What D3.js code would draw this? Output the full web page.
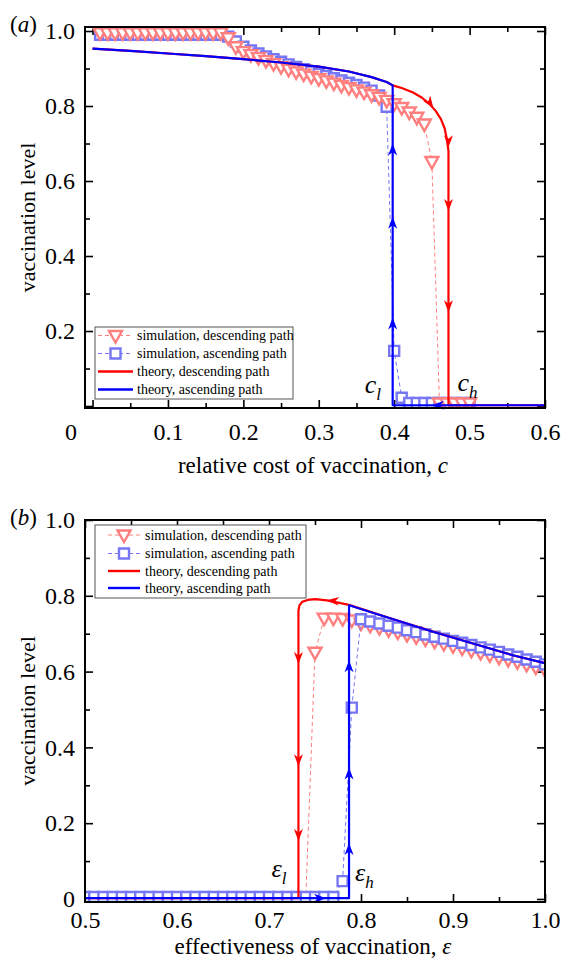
<!DOCTYPE html>
<html>
<head>
<meta charset="utf-8">
<script src="https://cdnjs.cloudflare.com/ajax/libs/d3/7.8.5/d3.min.js"></script>
<style>
  body { margin: 0; background: #fff; }
  svg { display: block; font-family: "Liberation Serif", "Times New Roman", serif; }
</style>
</head>
<body>
<svg id="canvas"></svg>
<script>

// Panel (a) simulation grid: relative cost of vaccination.
var simCost = [0.01, 0.02, 0.03, 0.04, 0.05, 0.06, 0.07, 0.08, 0.09, 0.10,
               0.11, 0.12, 0.13, 0.14, 0.15, 0.16, 0.17, 0.18, 0.19, 0.20,
               0.21, 0.22, 0.23, 0.24, 0.25, 0.26, 0.27, 0.28, 0.29, 0.30,
               0.31, 0.32, 0.33, 0.34, 0.35, 0.36, 0.37, 0.38, 0.39, 0.40,
               0.41, 0.42, 0.43, 0.44, 0.45, 0.46, 0.47, 0.48, 0.49, 0.50];

// Panel (a) simulation, descending path.
var simDescA = [0.995, 0.995, 0.995, 0.995, 0.995, 0.995, 0.995, 0.995, 0.995, 0.995,
                0.995, 0.995, 0.995, 0.995, 0.995, 0.995, 0.995, 0.982, 0.958, 0.945,
                0.937, 0.929, 0.921, 0.913, 0.905, 0.898, 0.891, 0.885, 0.879, 0.873,
                0.867, 0.861, 0.855, 0.849, 0.843, 0.837, 0.830, 0.823, 0.815, 0.806,
                0.796, 0.784, 0.770, 0.752, 0.652, 0.008, 0.008, 0.008, 0.008, 0.008];

// Panel (a) simulation, ascending path.
var simAscA = [0.990, 0.990, 0.990, 0.990, 0.990, 0.990, 0.990, 0.990, 0.990, 0.990,
               0.990, 0.990, 0.990, 0.990, 0.990, 0.990, 0.990, 0.985, 0.972, 0.958,
               0.948, 0.940, 0.932, 0.925, 0.918, 0.911, 0.904, 0.898, 0.892, 0.886,
               0.880, 0.874, 0.868, 0.862, 0.856, 0.849, 0.841, 0.828, 0.798, 0.147,
               0.022, 0.008, 0.008, 0.008, 0.008, 0.008, 0.008, 0.008, 0.008, 0.008];

// Panel (a) theory, ascending path.
var theoryAscCostA  = [0.000, 0.050, 0.100, 0.150, 0.200, 0.250, 0.300, 0.340, 0.370, 0.390, 0.398, 0.398, 0.600];
var theoryAscLevelA = [0.953, 0.947, 0.940, 0.933, 0.925, 0.916, 0.905, 0.892, 0.877, 0.864, 0.855, 0.002, 0.002];

// Panel (a) theory, descending path.
var theoryDescCostA  = [0.000, 0.050, 0.100, 0.150, 0.200, 0.250, 0.300, 0.340, 0.370, 0.390, 0.398,
                        0.410, 0.425, 0.437, 0.447, 0.455, 0.462, 0.467, 0.470, 0.472, 0.472, 0.472, 0.600];
var theoryDescLevelA = [0.953, 0.947, 0.940, 0.933, 0.925, 0.916, 0.905, 0.892, 0.877, 0.864, 0.855,
                        0.848, 0.836, 0.822, 0.805, 0.787, 0.765, 0.740, 0.710, 0.680, 0.657, 0.002, 0.002];

// Panel (b) simulation grid: effectiveness of vaccination.
var simEff = [0.50, 0.51, 0.52, 0.53, 0.54, 0.55, 0.56, 0.57, 0.58, 0.59,
              0.60, 0.61, 0.62, 0.63, 0.64, 0.65, 0.66, 0.67, 0.68, 0.69,
              0.70, 0.71, 0.72, 0.73, 0.74, 0.75, 0.76, 0.77, 0.78, 0.79,
              0.80, 0.81, 0.82, 0.83, 0.84, 0.85, 0.86, 0.87, 0.88, 0.89,
              0.90, 0.91, 0.92, 0.93, 0.94, 0.95, 0.96, 0.97, 0.98, 0.99, 1.00];

// Panel (b) simulation, descending path.
var simDescB = [0.005, 0.005, 0.005, 0.005, 0.005, 0.005, 0.005, 0.005, 0.005, 0.005,
                0.005, 0.005, 0.005, 0.005, 0.005, 0.005, 0.005, 0.005, 0.005, 0.005,
                0.005, 0.005, 0.005, 0.005, 0.005, 0.651, 0.741, 0.741, 0.740, 0.736,
                0.728, 0.722, 0.716, 0.710, 0.704, 0.698, 0.692, 0.686, 0.680, 0.674,
                0.668, 0.662, 0.656, 0.650, 0.644, 0.638, 0.632, 0.626, 0.619, 0.612, 0.605];

// Panel (b) simulation, ascending path.
var simAscB = [0.005, 0.005, 0.005, 0.005, 0.005, 0.005, 0.005, 0.005, 0.005, 0.005,
               0.005, 0.005, 0.005, 0.005, 0.005, 0.005, 0.005, 0.005, 0.005, 0.005,
               0.005, 0.005, 0.005, 0.005, 0.005, 0.005, 0.005, 0.005, 0.047, 0.505,
               0.738, 0.732, 0.727, 0.721, 0.716, 0.709, 0.704, 0.698, 0.692, 0.687,
               0.681, 0.676, 0.670, 0.664, 0.658, 0.652, 0.645, 0.639, 0.632, 0.626, 0.619];

// Panel (b) theory, ascending path.
var theoryAscEffB   = [0.500, 0.787, 0.787, 0.830, 0.880, 0.930, 0.965, 1.000];
var theoryAscLevelB = [0.002, 0.002, 0.775, 0.742, 0.704, 0.668, 0.643, 0.622];

// Panel (b) theory, descending path.
var theoryDescEffB   = [1.000, 0.965, 0.930, 0.880, 0.830, 0.787, 0.763, 0.750, 0.742, 0.736, 0.733, 0.732, 0.732, 0.500];
var theoryDescLevelB = [0.622, 0.643, 0.668, 0.704, 0.742, 0.776, 0.788, 0.791, 0.789, 0.784, 0.774, 0.760, 0.002, 0.002];

// Arrow heads along the theory paths (x, y, screen angle in degrees).
var arrowsDescA = [[0.452, 0.795, 55], [0.472, 0.690, 90], [0.472, 0.520, 90], [0.472, 0.250, 90]];
var arrowsAscA  = [[0.398, 0.700, -90], [0.398, 0.505, -90], [0.398, 0.236, -90], [0.450, 0.002, 180]];
var arrowsDescB = [[0.763, 0.788, 185], [0.732, 0.620, 90], [0.732, 0.350, 90], [0.732, 0.153, 90]];
var arrowsAscB  = [[0.787, 0.630, -90], [0.787, 0.347, -90], [0.787, 0.148, -90], [0.762, 0.002, 0]];

// Tick values.
var xMajorA = [0, 0.1, 0.2, 0.3, 0.4, 0.5, 0.6];
var xMinorA = [0.05, 0.15, 0.25, 0.35, 0.45, 0.55];
var xMajorB = [0.5, 0.6, 0.7, 0.8, 0.9, 1.0];
var xMinorB = [0.55, 0.65, 0.75, 0.85, 0.95];
var yMajor = [0, 0.2, 0.4, 0.6, 0.8, 1.0];
var yMinor = [0.1, 0.3, 0.5, 0.7, 0.9];

// Legend labels.
var legendLabels = ['simulation, descending path', 'simulation, ascending path',
                    'theory, descending path', 'theory, ascending path'];

// Colours.
var colours = {
  simDesc: '#ff7f7f',
  simAsc: '#7777f5',
  theoryDesc: '#ff0000',
  theoryAsc: '#0000ff',
  axis: '#000000',
  legendBox: '#555555'
};

// Marker shapes.
var triangleDown = 'M-6.5,-4.5L6.5,-4.5L0,7Z';
var squareShape = 'M-5,-5H5V5H-5Z';
var arrowHead = 'M0,0L-12,-4.5L-8.5,0L-12,4.5Z';

var fmt = d3.format('.1f');

// Panel settings.
var panels = [
  {
    tag: 'a', l: 85, r: 545, t: 27, b: 408,
    xDomain: [-0.01, 0.6], yDomain: [-0.0053, 1.0107],
    xMajor: xMajorA, xMinor: xMinorA, xPad: 15, zeroShift: -22,
    yLabel: function(d) { return d === 0 ? '' : fmt(d); },
    xTitle: ['relative cost of vaccination, ', 'c'], xTitleY: 473,
    simX: simCost, simDesc: simDescA, simAsc: simAscA, triOnTop: true,
    tAscX: theoryAscCostA, tAscY: theoryAscLevelA,
    tDescX: theoryDescCostA, tDescY: theoryDescLevelA,
    arrowsDesc: arrowsDescA, arrowsAsc: arrowsAscA,
    legend: { x: 95, y: 327, w: 198, h: 72, rows: [335.5, 353.5, 371.5, 389.5], s0: 98, s1: 133, tx: 137 },
    notes: [
      { sym: 'c', sub: 'l', at: [0.398, 0], dx: -28, dy: -13 },
      { sym: 'c', sub: 'h', at: [0.472, 0], dx: 9, dy: -15 }
    ]
  },
  {
    tag: 'b', l: 85, r: 545, t: 520, b: 902,
    xDomain: [0.5, 1.0], yDomain: [-0.008, 1.0],
    xMajor: xMajorB, xMinor: xMinorB, xPad: 9, zeroShift: 0,
    yLabel: function(d) { return d === 0 ? '0' : fmt(d); },
    xTitle: ['effectiveness of vaccination, ', '\u03b5'], xTitleY: 954,
    simX: simEff, simDesc: simDescB, simAsc: simAscB, triOnTop: false,
    tAscX: theoryAscEffB, tAscY: theoryAscLevelB,
    tDescX: theoryDescEffB, tDescY: theoryDescLevelB,
    arrowsDesc: arrowsDescB, arrowsAsc: arrowsAscB,
    legend: { x: 95, y: 525, w: 211, h: 73, rows: [535, 553.5, 571, 588], s0: 108, s1: 140, tx: 145 },
    notes: [
      { sym: '\u03b5', sub: 'l', at: [0.732, 0], dx: -27, dy: -22 },
      { sym: '\u03b5', sub: 'h', at: [0.787, 0], dx: 6, dy: -18 }
    ]
  }
];

// SVG canvas.
var svg = d3.select('#canvas')
            .attr('width', 562)
            .attr('height', 966);

////////////////////////////////////////////////////////////////////////////////
// Draw one panel
////////////////////////////////////////////////////////////////////////////////
var drawPanel = function(p) {

  var x = d3.scaleLinear().domain(p.xDomain).range([p.l, p.r]);
  var y = d3.scaleLinear().domain(p.yDomain).range([p.b, p.t]);

  var g = svg.append('g');

  // Axes with inward ticks.
  var styleAxis = function(sel) {
    sel.select('.domain').remove();
    sel.selectAll('line').attr('stroke', colours.axis).attr('stroke-width', 1.6);
    sel.selectAll('text').attr('font-family', '"Liberation Serif", serif')
       .attr('font-size', 24).attr('fill', '#000');
  };

  var xb = g.append('g').attr('transform', 'translate(0,' + p.b + ')')
            .call(d3.axisBottom(x).tickValues(p.xMajor).tickSize(-8).tickPadding(p.xPad)
                  .tickFormat(function(d) { return d === 0 ? '0' : fmt(d); }))
            .call(styleAxis);
  xb.selectAll('.tick').filter(function(d) { return d === 0; })
    .select('text').attr('x', p.zeroShift);

  g.append('g').attr('transform', 'translate(0,' + p.b + ')')
   .call(d3.axisBottom(x).tickValues(p.xMinor).tickSize(-5).tickFormat(''))
   .call(styleAxis);
  g.append('g').attr('transform', 'translate(0,' + p.t + ')')
   .call(d3.axisTop(x).tickValues(p.xMajor).tickSize(-8).tickFormat(''))
   .call(styleAxis);
  g.append('g').attr('transform', 'translate(0,' + p.t + ')')
   .call(d3.axisTop(x).tickValues(p.xMinor).tickSize(-5).tickFormat(''))
   .call(styleAxis);

  g.append('g').attr('transform', 'translate(' + p.l + ',0)')
   .call(d3.axisLeft(y).tickValues(yMajor).tickSize(-8).tickPadding(10).tickFormat(p.yLabel))
   .call(styleAxis);
  g.append('g').attr('transform', 'translate(' + p.l + ',0)')
   .call(d3.axisLeft(y).tickValues(yMinor).tickSize(-5).tickFormat(''))
   .call(styleAxis);
  g.append('g').attr('transform', 'translate(' + p.r + ',0)')
   .call(d3.axisRight(y).tickValues(yMajor).tickSize(-8).tickFormat(''))
   .call(styleAxis);
  g.append('g').attr('transform', 'translate(' + p.r + ',0)')
   .call(d3.axisRight(y).tickValues(yMinor).tickSize(-5).tickFormat(''))
   .call(styleAxis);

  // Plot contents, clipped to the frame.
  var clipId = 'clip-' + p.tag;
  svg.append('clipPath').attr('id', clipId)
     .append('rect').attr('x', p.l).attr('y', p.t - 8)
     .attr('width', p.r - p.l).attr('height', p.b - p.t + 8);

  var plot = g.append('g').attr('clip-path', 'url(#' + clipId + ')');

  var simLine = d3.line()
                  .x(function(d) { return x(d[0]); })
                  .y(function(d) { return y(d[1]); });

  // Simulation series.
  var drawSim = function(values, colour, shape) {
    var pts = p.simX.map(function(c, i) { return [c, values[i]]; });
    plot.append('path')
        .attr('d', simLine(pts))
        .attr('fill', 'none')
        .attr('stroke', colour)
        .attr('stroke-width', 1)
        .attr('stroke-dasharray', '4,3');
    plot.append('g').selectAll('path')
        .data(pts)
        .enter()
        .append('path')
        .attr('d', shape)
        .attr('transform', function(d) { return 'translate(' + x(d[0]) + ',' + y(d[1]) + ')'; })
        .attr('fill', '#fff')
        .attr('stroke', colour)
        .attr('stroke-width', 2.4);
  };

  if (p.triOnTop) {
    drawSim(p.simAsc, colours.simAsc, squareShape);
    drawSim(p.simDesc, colours.simDesc, triangleDown);
  } else {
    drawSim(p.simDesc, colours.simDesc, triangleDown);
    drawSim(p.simAsc, colours.simAsc, squareShape);
  }

  // Theory paths.
  var drawTheory = function(xs, ys, colour) {
    var pts = xs.map(function(c, i) { return [c, ys[i]]; });
    plot.append('path')
        .attr('d', simLine(pts))
        .attr('fill', 'none')
        .attr('stroke', colour)
        .attr('stroke-width', 2.2)
        .attr('stroke-linejoin', 'round');
  };
  drawTheory(p.tDescX, p.tDescY, colours.theoryDesc);
  drawTheory(p.tAscX, p.tAscY, colours.theoryAsc);

  // Arrow heads.
  var drawArrows = function(list, colour) {
    g.append('g').selectAll('path')
     .data(list)
     .enter()
     .append('path')
     .attr('d', arrowHead)
     .attr('transform', function(d) {
       return 'translate(' + x(d[0]) + ',' + y(d[1]) + ') rotate(' + d[2] + ')';
     })
     .attr('fill', colour);
  };
  drawArrows(p.arrowsDesc, colours.theoryDesc);
  drawArrows(p.arrowsAsc, colours.theoryAsc);

  // Frame.
  g.append('rect')
   .attr('x', p.l).attr('y', p.t)
   .attr('width', p.r - p.l).attr('height', p.b - p.t)
   .attr('fill', 'none')
   .attr('stroke', colours.axis)
   .attr('stroke-width', 2);

  // Threshold annotations.
  p.notes.forEach(function(n) {
    var t = g.append('text')
             .attr('x', x(n.at[0]) + n.dx)
             .attr('y', y(n.at[1]) + n.dy)
             .attr('font-size', 26)
             .attr('font-style', 'italic');
    t.append('tspan').text(n.sym);
    t.append('tspan').attr('font-size', 17).attr('dy', 7).text(n.sub);
  });

  // Legend.
  var L = p.legend;
  var leg = g.append('g');
  leg.append('rect')
     .attr('x', L.x).attr('y', L.y).attr('width', L.w).attr('height', L.h)
     .attr('fill', '#fff').attr('stroke', colours.legendBox).attr('stroke-width', 1);

  var legendItems = [
    { colour: colours.simDesc, shape: triangleDown, sim: true },
    { colour: colours.simAsc, shape: squareShape, sim: true },
    { colour: colours.theoryDesc, sim: false },
    { colour: colours.theoryAsc, sim: false }
  ];

  legendItems.forEach(function(item, i) {
    var ry = L.rows[i];
    leg.append('line')
       .attr('x1', L.s0).attr('x2', L.s1).attr('y1', ry).attr('y2', ry)
       .attr('stroke', item.colour)
       .attr('stroke-width', item.sim ? 1 : 2.4)
       .attr('stroke-dasharray', item.sim ? '4,3' : null);
    if (item.sim) {
      leg.append('path')
         .attr('d', item.shape)
         .attr('transform', 'translate(' + ((L.s0 + L.s1) / 2) + ',' + ry + ')')
         .attr('fill', '#fff')
         .attr('stroke', item.colour)
         .attr('stroke-width', 2.4);
    }
    leg.append('text')
       .attr('x', L.tx).attr('y', ry).attr('dy', '0.35em')
       .attr('font-size', 14)
       .text(legendLabels[i]);
  });

  // Axis titles.
  var xt = g.append('text')
            .attr('x', (p.l + p.r) / 2 - 2)
            .attr('y', p.xTitleY)
            .attr('text-anchor', 'middle')
            .attr('font-size', 23);
  xt.append('tspan').text(p.xTitle[0]);
  xt.append('tspan').attr('font-style', 'italic').text(p.xTitle[1]);

  g.append('text')
   .attr('transform', 'translate(35,' + ((p.t + p.b) / 2) + ') rotate(-90)')
   .attr('text-anchor', 'middle')
   .attr('font-size', 22)
   .text('vaccination level');

  // Panel tag.
  var tag = g.append('text')
             .attr('x', 10).attr('y', p.t + 5)
             .attr('font-size', 23);
  tag.append('tspan').text('(');
  tag.append('tspan').attr('font-style', 'italic').text(p.tag);
  tag.append('tspan').text(')');

};

panels.forEach(drawPanel);

</script>
</body>
</html>
